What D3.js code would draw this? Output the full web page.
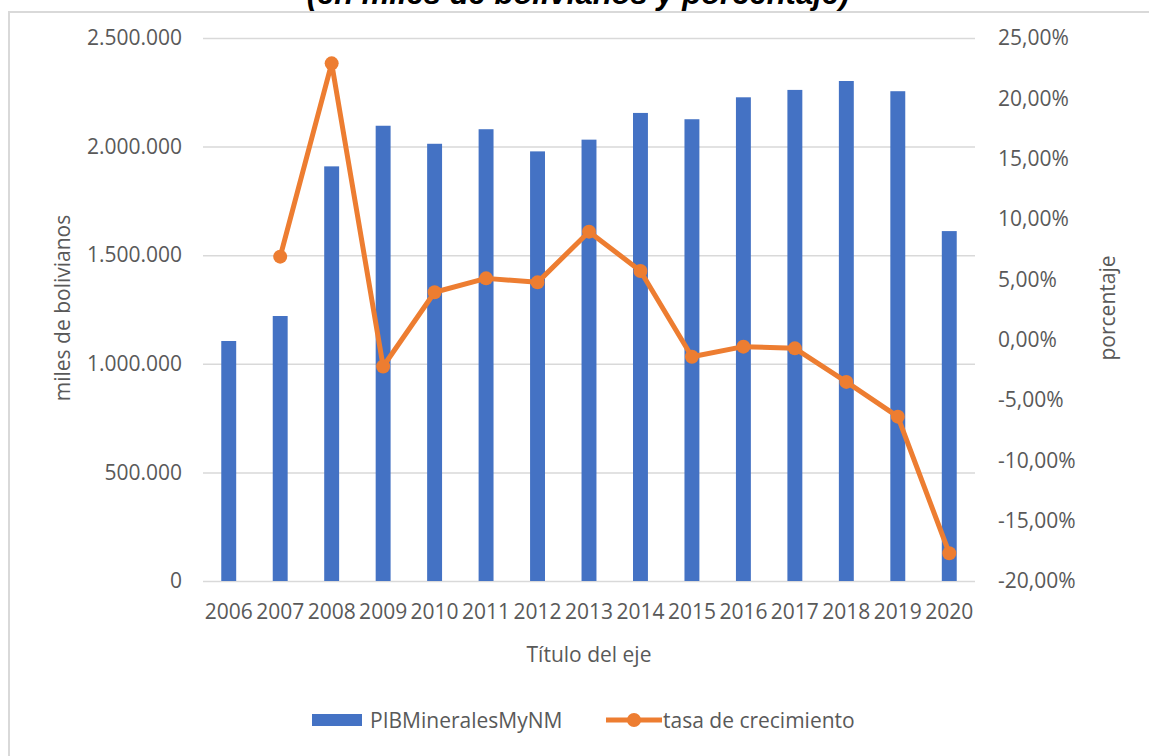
<!DOCTYPE html>
<html>
<head>
<meta charset="utf-8">
<script src="https://cdn.jsdelivr.net/npm/d3@7"></script>
<style>
  body { margin: 0; background: #fff; }
  text { font-family: "Open Sans", sans-serif; fill: #595959; }
</style>
</head>
<body>
<svg id="graph"></svg>
<script>
// datos
var years = ["2006","2007","2008","2009","2010","2011","2012","2013","2014","2015","2016","2017","2018","2019","2020"];
var pib = [1105000, 1220000, 1909000, 2096000, 2013000, 2080000, 1978000, 2032000, 2155000, 2126000, 2227000, 2261000, 2302000, 2255000, 1611000];
var tasa = [null, 0.0688, 0.229, -0.0222, 0.0393, 0.0508, 0.0475, 0.0895, 0.0569, -0.0141, -0.0058, -0.0072, -0.035, -0.0638, -0.177];
var leftTicks = [0, 500000, 1000000, 1500000, 2000000, 2500000];
var rightTicks = [-0.20, -0.15, -0.10, -0.05, 0, 0.05, 0.10, 0.15, 0.20, 0.25];

var width = 1149, height = 756;
var pLeft = 203, pRight = 975, pTop = 38, pBottom = 581;

var svg = d3.select("#graph")
	.attr("width", width)
	.attr("height", height);

var loc = d3.formatLocale({decimal: ",", thousands: ".", grouping: [3], currency: ["", ""], minus: "-"});

// borde del area del grafico
svg.append("rect")
	.attr("x", 9).attr("y", 12)
	.attr("width", 1300).attr("height", 900)
	.style("fill", "none")
	.style("stroke", "#d9d9d9")
	.style("stroke-width", 2);

// titulo (cortado arriba)
svg.append("text")
	.attr("x", 578).attr("y", 4)
	.attr("text-anchor", "middle")
	.style("font-family", "'Liberation Sans', Arial, sans-serif")
	.style("font-weight", "bold")
	.style("font-style", "italic")
	.style("font-size", "31px")
	.style("fill", "#000")
	.text("(en miles de bolivianos y porcentaje)");

var xScale = d3.scaleBand().domain(years).range([pLeft, pRight]).paddingInner(0.71).paddingOuter(0.355);
var yScale = d3.scaleLinear().domain([0, 2500000]).range([pBottom, pTop]);
var y2Scale = d3.scaleLinear().domain([-0.20, 0.25]).range([pBottom, pTop]);

var plot = svg.append("g");

// eje izquierdo + lineas de division
var yAxis = d3.axisLeft(yScale).tickValues(leftTicks).tickSize(-(pRight - pLeft)).tickPadding(21).tickFormat(loc.format(","));
var gy = plot.append("g").attr("transform", "translate(" + pLeft + ",0)").call(yAxis);
gy.select(".domain").remove();
gy.selectAll("line").style("stroke", "#d9d9d9").style("stroke-width", 1.5);
gy.selectAll("text").style("font-size", "21px").style("fill", "#595959");

var y2Axis = d3.axisRight(y2Scale).tickValues(rightTicks).tickSize(0).tickPadding(23).tickFormat(loc.format(".2%"));
var gy2 = plot.append("g").attr("transform", "translate(" + pRight + ",0)").call(y2Axis);
gy2.select(".domain").remove();
gy2.selectAll("text").style("font-size", "21px").style("fill", "#595959");

// barras
plot.selectAll(".bar")
	.data(pib)
	.enter().append("rect")
	.attr("class", "bar")
	.attr("x", function(d, i){ return xScale(years[i]); })
	.attr("width", xScale.bandwidth())
	.attr("y", function(d){ return yScale(d); })
	.attr("height", function(d){ return yScale(0) - yScale(d); })
	.style("fill", "#4472C4");

var xAxis = d3.axisBottom(xScale).tickSize(0).tickPadding(23);
var gx = plot.append("g").attr("transform", "translate(0," + pBottom + ")").call(xAxis);
gx.select(".domain").remove();
gx.selectAll("text").style("font-size", "21px").style("fill", "#595959");

// linea tasa de crecimiento
var lineData = [];
tasa.forEach(function(d, i){
	if (d != null) lineData.push({year: years[i], v: d});
});
var pathGenerator = d3.line()
	.x(function(d){ return xScale(d.year) + xScale.bandwidth()/2; })
	.y(function(d){ return y2Scale(d.v); });

plot.append("path")
	.datum(lineData)
	.attr("d", pathGenerator)
	.style("stroke", "#ED7D31")
	.style("stroke-width", 5)
	.style("stroke-linejoin", "round")
	.style("fill", "none");

plot.selectAll(".dot")
	.data(lineData)
	.enter().append("circle")
	.attr("class", "dot")
	.attr("cx", function(d){ return xScale(d.year) + xScale.bandwidth()/2; })
	.attr("cy", function(d){ return y2Scale(d.v); })
	.attr("r", 7)
	.style("fill", "#ED7D31");

// titulos de ejes
svg.append("text")
	.attr("transform", "translate(70,308) rotate(-90)")
	.attr("text-anchor", "middle")
	.style("font-size", "21px")
	.text("miles de bolivianos");

svg.append("text")
	.attr("transform", "translate(1115,308) rotate(-90)")
	.attr("text-anchor", "middle")
	.style("font-size", "21px")
	.text("porcentaje");

svg.append("text")
	.attr("x", (pLeft + pRight)/2).attr("y", 662)
	.attr("text-anchor", "middle")
	.style("font-size", "21px")
	.text("Título del eje");

// leyenda
var legend = svg.append("g");
legend.append("rect")
	.attr("x", 312).attr("y", 714)
	.attr("width", 50).attr("height", 12)
	.style("fill", "#4472C4");
legend.append("text")
	.attr("x", 370).attr("y", 728)
	.style("font-size", "21px")
	.text("PIBMineralesMyNM");
legend.append("line")
	.attr("x1", 606).attr("x2", 662)
	.attr("y1", 720).attr("y2", 720)
	.style("stroke", "#ED7D31")
	.style("stroke-width", 5);
legend.append("circle")
	.attr("cx", 634).attr("cy", 720).attr("r", 7)
	.style("fill", "#ED7D31");
legend.append("text")
	.attr("x", 663).attr("y", 728)
	.style("font-size", "21px")
	.text("tasa de crecimiento");
</script>
</body>
</html>
